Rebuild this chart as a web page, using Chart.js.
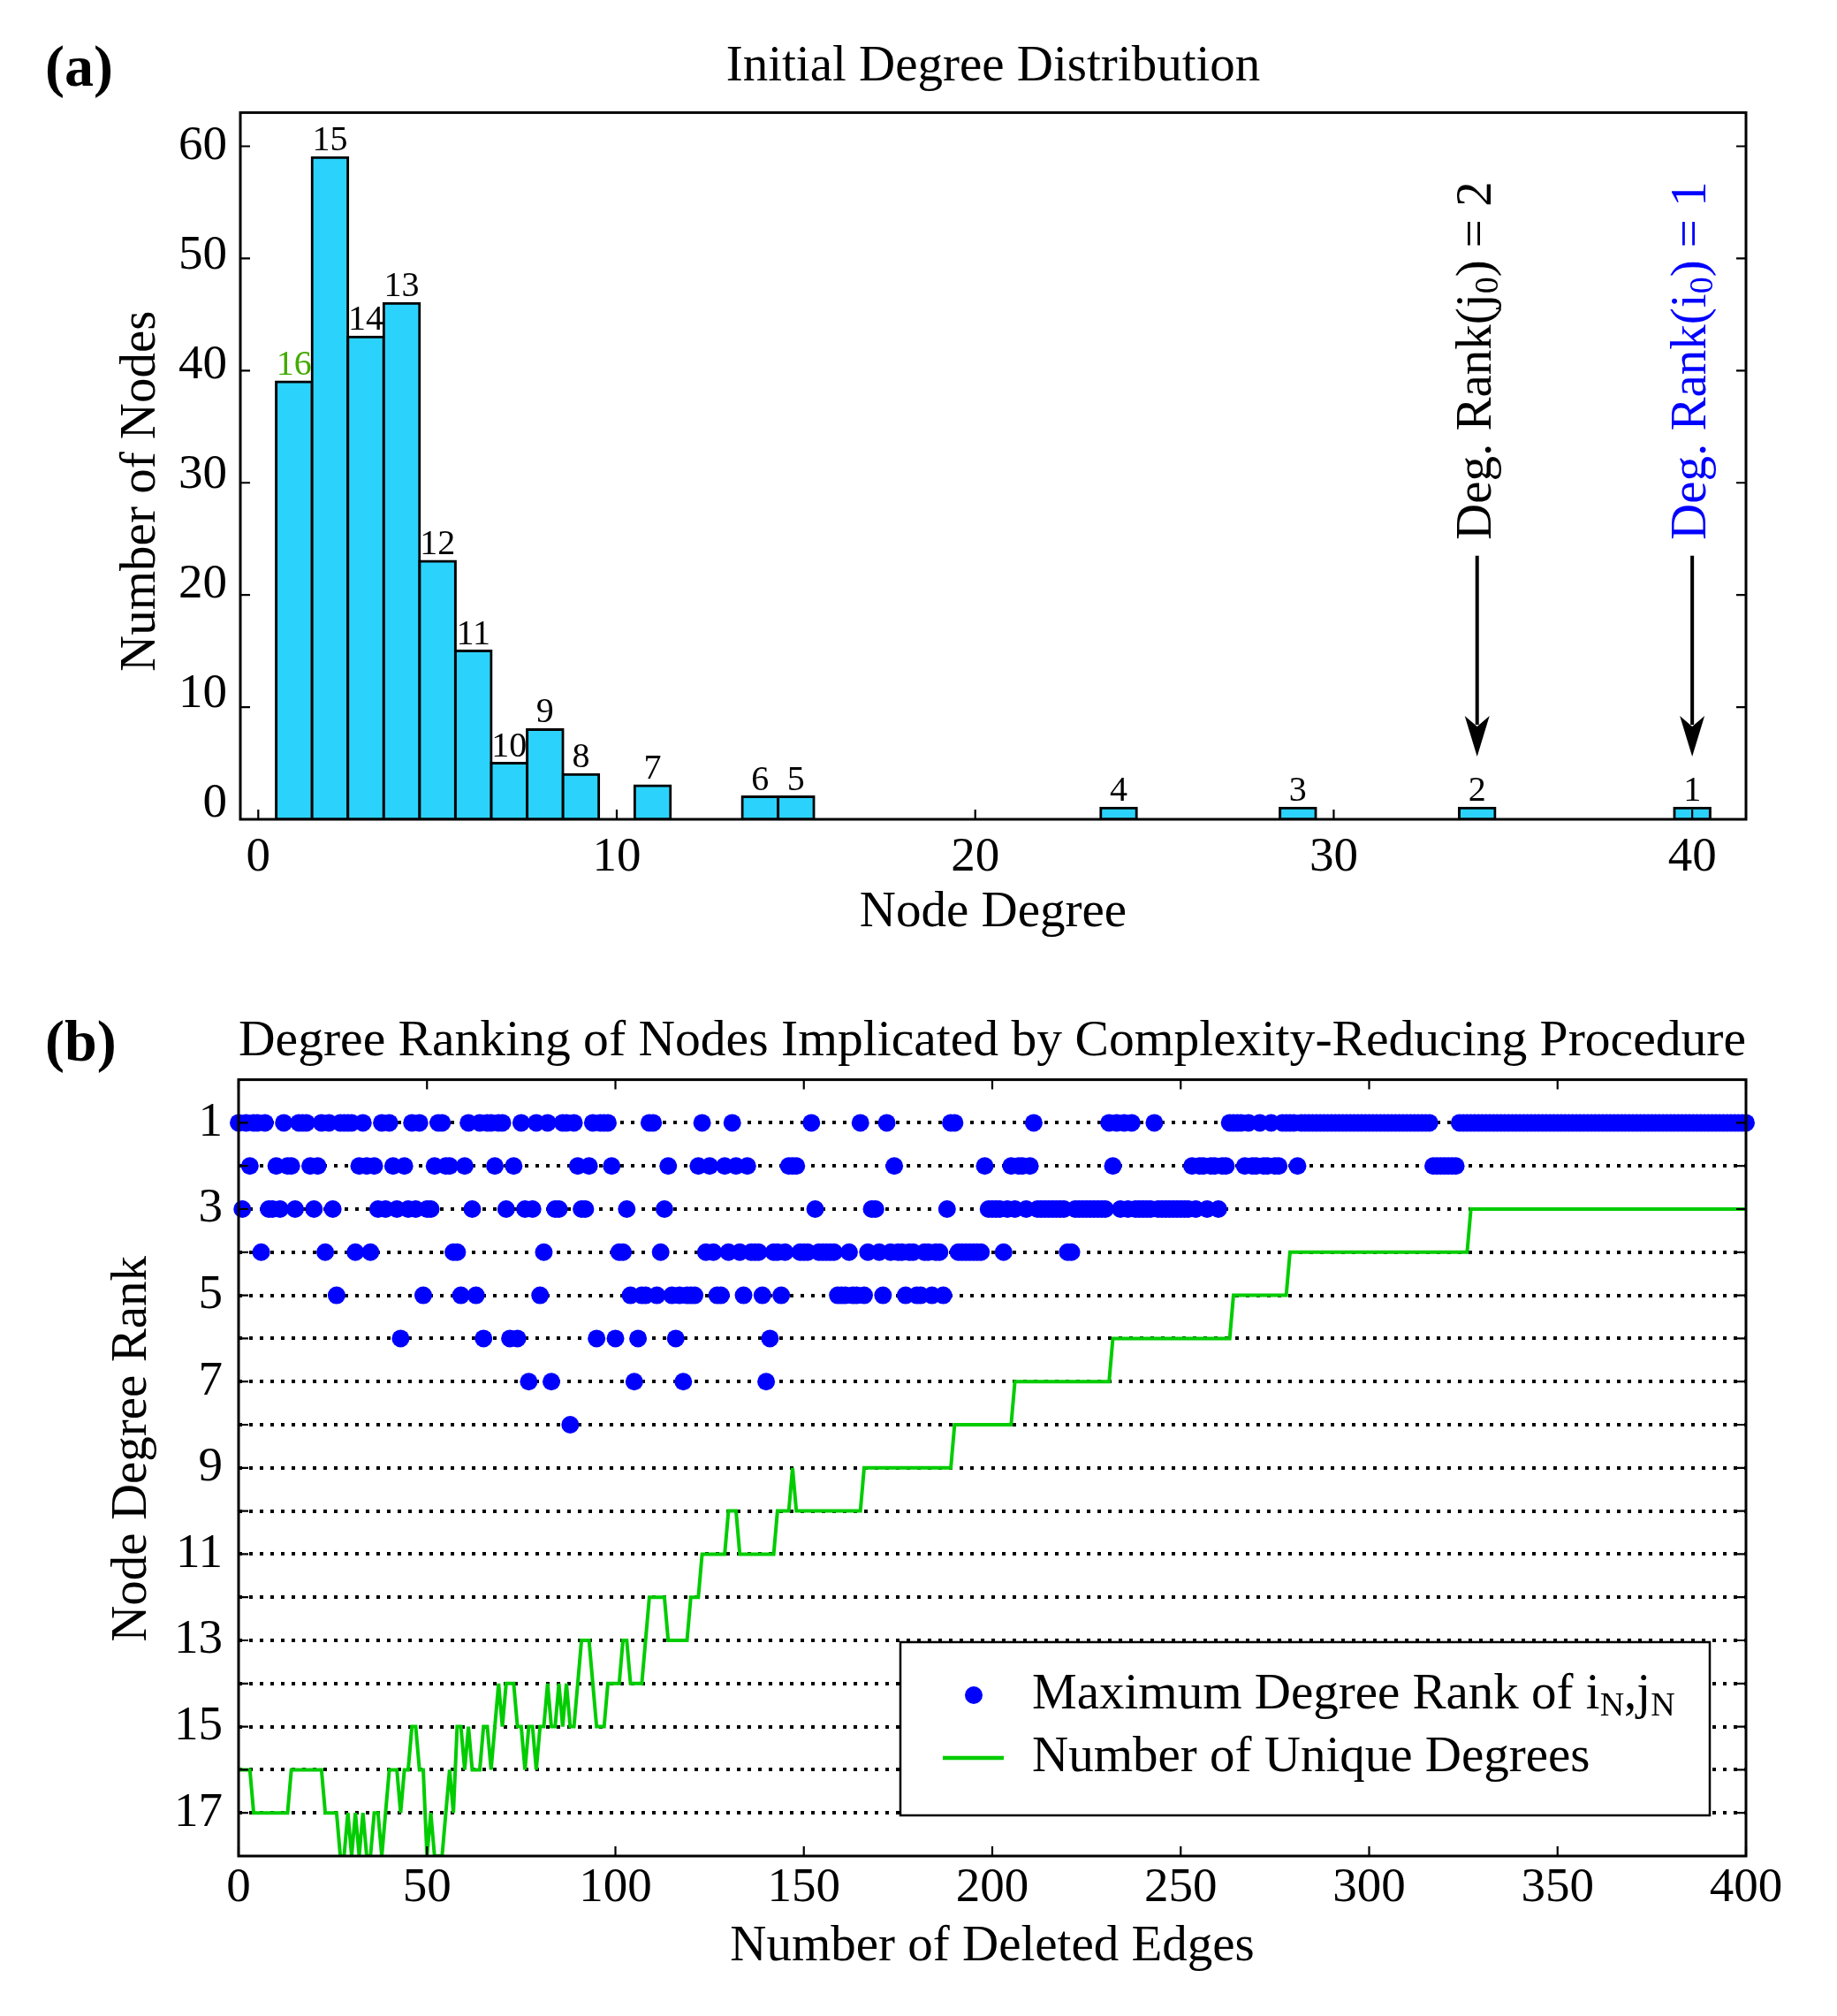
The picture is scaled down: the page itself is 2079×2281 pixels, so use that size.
<!DOCTYPE html>
<html>
<head>
<meta charset="utf-8">
<title>Degree distribution and degree ranking</title>
<script src="https://cdn.jsdelivr.net/npm/chart.js@4.4.1/dist/chart.umd.min.js"></script>
<style>
  html, body { margin: 0; padding: 0; background: #fff; overflow: hidden; }
  #wrapA { position: absolute; left: 0; top: 0; width: 2079px; height: 1100px; }
  #wrapB { position: absolute; left: 0; top: 1100px; width: 2079px; height: 1181px; }
</style>
</head>
<body>
<div id="wrapA"><canvas id="histChart"></canvas></div>
<div id="wrapB"><canvas id="rankChart"></canvas></div>
<script>
// ===============================
// DATA - panel (a)
// ===============================
const nodeDegrees = [1, 2, 3, 4, 5, 6, 7, 8, 9, 11, 14, 15, 24, 29, 34, 40];
const nodeCounts  = [39, 59, 43, 46, 23, 15, 5, 8, 4, 3, 2, 2, 1, 1, 1, 1];
const degreeRanks = ["16", "15", "14", "13", "12", "11", "10", "9", "8", "7", "6", "5", "4", "3", "2", "1"];
const degreeTicks = [0, 10, 20, 30, 40];
const countTicks  = [0, 10, 20, 30, 40, 50, 60];

// arrows: degree of the two end nodes, arrow start / tip and text start (y in node counts)
const arrowDegrees = [34, 40];
const arrowFrom    = [23.5, 23.5];
const arrowTo      = [5.6, 5.6];
const arrowTextAt  = [24.9, 24.9];
const arrowTexts   = [
    [["Deg. Rank(j", false], ["0", true], [") = 2", false]],
    [["Deg. Rank(i", false], ["0", true], [") = 1", false]]
];

// ===============================
// DATA - panel (b)
// ===============================
// maximum degree rank of (iN, jN) for deleted edge N = 0..400
const maxRankOfPair = [
    1,3,1,2,1,1,4,1,3,3,2,3,1,2,2,3,1,1,1,2,
    3,2,1,4,1,3,5,1,1,1,1,4,2,1,2,4,2,3,1,3,
    1,2,3,6,2,3,1,3,1,5,3,3,2,1,1,2,2,4,4,5,
    2,1,3,5,1,6,1,1,2,1,1,3,6,2,6,1,3,7,3,1,
    5,4,1,7,3,3,1,1,8,1,2,3,3,2,1,6,1,1,1,2,
    6,4,4,3,5,7,6,5,5,1,1,5,4,3,2,5,6,5,7,5,
    5,5,2,1,4,2,4,5,5,2,4,1,2,4,5,2,4,4,4,5,
    7,6,4,4,5,4,2,2,2,4,4,4,1,3,4,4,4,4,4,5,
    5,5,4,5,5,1,5,4,3,3,4,5,1,4,2,4,4,5,4,4,
    5,5,4,4,5,4,4,5,3,1,1,4,4,4,4,4,4,4,2,3,
    3,3,3,4,3,2,3,2,2,3,2,1,3,3,3,3,3,3,3,3,
    4,4,3,3,3,3,3,3,3,3,3,1,2,1,3,1,3,1,3,3,
    3,3,3,1,3,3,3,3,3,3,3,3,3,2,3,2,2,3,2,2,
    3,2,2,1,1,1,1,2,1,2,2,1,2,2,1,2,2,1,1,1,
    1,2,1,1,1,1,1,1,1,1,1,1,1,1,1,1,1,1,1,1,
    1,1,1,1,1,1,1,1,1,1,1,1,1,1,1,1,1,2,2,2,
    2,2,2,2,1,1,1,1,1,1,1,1,1,1,1,1,1,1,1,1,
    1,1,1,1,1,1,1,1,1,1,1,1,1,1,1,1,1,1,1,1,
    1,1,1,1,1,1,1,1,1,1,1,1,1,1,1,1,1,1,1,1,
    1,1,1,1,1,1,1,1,1,1,1,1,1,1,1,1,1,1,1,1,
    1
];

// number of unique degrees after N deleted edges, N = 0..400
const uniqueDegrees = [
    16,16,16,16,17,17,17,17,17,17,17,17,17,17,16,16,16,16,16,16,
    16,16,16,17,17,17,17,18,18,17,18,17,18,17,18,18,17,17,18,17,
    16,16,16,17,16,16,15,15,16,16,18,17,18,18,18,17,16,17,15,15,
    16,15,16,16,16,15,15,16,15,14,15,14,14,14,15,15,16,15,15,16,
    15,15,14,15,15,14,15,14,15,15,14,13,13,13,14,15,15,15,14,14,
    14,14,13,13,14,14,14,14,13,12,12,12,12,12,13,13,13,13,13,13,
    12,12,12,11,11,11,11,11,11,11,10,10,10,11,11,11,11,11,11,11,
    11,11,11,10,10,10,10,9,10,10,10,10,10,10,10,10,10,10,10,10,
    10,10,10,10,10,10,9,9,9,9,9,9,9,9,9,9,9,9,9,9,
    9,9,9,9,9,9,9,9,9,9,8,8,8,8,8,8,8,8,8,8,
    8,8,8,8,8,8,7,7,7,7,7,7,7,7,7,7,7,7,7,7,
    7,7,7,7,7,7,7,7,7,7,7,7,6,6,6,6,6,6,6,6,
    6,6,6,6,6,6,6,6,6,6,6,6,6,6,6,6,6,6,6,6,
    6,6,6,6,5,5,5,5,5,5,5,5,5,5,5,5,5,5,5,4,
    4,4,4,4,4,4,4,4,4,4,4,4,4,4,4,4,4,4,4,4,
    4,4,4,4,4,4,4,4,4,4,4,4,4,4,4,4,4,4,4,4,
    4,4,4,4,4,4,4,3,3,3,3,3,3,3,3,3,3,3,3,3,
    3,3,3,3,3,3,3,3,3,3,3,3,3,3,3,3,3,3,3,3,
    3,3,3,3,3,3,3,3,3,3,3,3,3,3,3,3,3,3,3,3,
    3,3,3,3,3,3,3,3,3,3,3,3,3,3,3,3,3,3,3,3,
    3
];

const edgeTicks      = [0, 50, 100, 150, 200, 250, 300, 350, 400];
const rankTicks      = [1, 2, 3, 4, 5, 6, 7, 8, 9, 10, 11, 12, 13, 14, 15, 16, 17];
const rankTickLabels = ["1", "", "3", "", "5", "", "7", "", "9", "", "11", "", "13", "", "15", "", "17"];

// ===============================
// STYLE
// ===============================
const FONT = "'Liberation Serif', 'Times New Roman', Times, serif";
const BAR_FILL = "#2bd3fc";
const BLUE = "#0000ff";
const GREEN = "#00cc00";
const LABEL_GREEN = "#44aa00";
const HIGHLIGHT_RANK = "16";
const TICK_LEN = 11;

Chart.defaults.font.family = FONT;
Chart.defaults.color = "#000";

function drawFrame(chart) {
    const {ctx, chartArea: a} = chart;
    ctx.save();
    ctx.strokeStyle = "#000";
    ctx.lineWidth = 3;
    ctx.strokeRect(a.left, a.top, a.right - a.left, a.bottom - a.top);
    ctx.restore();
}

// inward tick marks: x ticks on the bottom (and top), y ticks on both sides
function drawInnerTicks(chart, xValues, yValues, xTop) {
    const {ctx, chartArea: a, scales} = chart;
    ctx.save();
    ctx.strokeStyle = "#000";
    ctx.lineWidth = 2.2;
    ctx.beginPath();
    xValues.forEach(v => {
        const px = scales.x.getPixelForValue(v);
        ctx.moveTo(px, a.bottom);
        ctx.lineTo(px, a.bottom - TICK_LEN);
        if (xTop) {
            ctx.moveTo(px, a.top);
            ctx.lineTo(px, a.top + TICK_LEN);
        }
    });
    yValues.forEach(v => {
        const py = scales.y.getPixelForValue(v);
        ctx.moveTo(a.left, py);
        ctx.lineTo(a.left + TICK_LEN, py);
        ctx.moveTo(a.right, py);
        ctx.lineTo(a.right - TICK_LEN, py);
    });
    ctx.stroke();
    ctx.restore();
}

// text made of [string, isSubscript] pieces, drawn from (x, y) along the current direction
function drawPieces(ctx, pieces, x, y, size, subSize, subShift) {
    let cx = x;
    pieces.forEach(([txt, sub]) => {
        ctx.font = (sub ? subSize : size) + "px " + FONT;
        ctx.fillText(txt, cx, sub ? y + subShift : y);
        cx += ctx.measureText(txt).width;
    });
}

function drawPanelLetter(chart, letter, baseline) {
    const ctx = chart.ctx;
    ctx.save();
    ctx.font = "bold 66px " + FONT;
    ctx.fillStyle = "#000";
    ctx.textAlign = "left";
    ctx.textBaseline = "alphabetic";
    ctx.fillText(letter, 51, baseline);
    ctx.restore();
}

const histDecor = {
    id: "histDecor",
    afterDatasetsDraw(chart) {
        const {ctx, scales} = chart;
        drawFrame(chart);
        drawInnerTicks(chart, degreeTicks, countTicks, false);

        // rank labels above bars
        ctx.save();
        ctx.font = "40px " + FONT;
        ctx.textAlign = "center";
        ctx.textBaseline = "alphabetic";
        nodeDegrees.forEach((d, i) => {
            ctx.fillStyle = degreeRanks[i] === HIGHLIGHT_RANK ? LABEL_GREEN : "#000";
            ctx.fillText(degreeRanks[i], scales.x.getPixelForValue(d), scales.y.getPixelForValue(nodeCounts[i]) - 8);
        });
        ctx.restore();

        // arrows with rotated text
        arrowDegrees.forEach((d, i) => {
            const x = scales.x.getPixelForValue(d);
            const y0 = scales.y.getPixelForValue(arrowFrom[i]);
            const y1 = scales.y.getPixelForValue(arrowTo[i]);
            ctx.save();
            ctx.strokeStyle = "#000";
            ctx.fillStyle = "#000";
            ctx.lineWidth = 4;
            ctx.beginPath();
            ctx.moveTo(x, y0);
            ctx.lineTo(x, y1 - 36);
            ctx.stroke();
            ctx.beginPath();
            ctx.moveTo(x, y1);
            ctx.lineTo(x - 14, y1 - 46);
            ctx.lineTo(x, y1 - 34);
            ctx.lineTo(x + 14, y1 - 46);
            ctx.closePath();
            ctx.fill();

            ctx.translate(x, scales.y.getPixelForValue(arrowTextAt[i]));
            ctx.rotate(-Math.PI / 2);
            ctx.fillStyle = i === 0 ? "#000" : BLUE;
            ctx.textAlign = "left";
            ctx.textBaseline = "middle";
            drawPieces(ctx, arrowTexts[i], 0, 0, 57, 38, 13);
            ctx.restore();
        });
    },
    afterDraw(chart) {
        drawPanelLetter(chart, "(a)", 97);
    }
};

const rankDecor = {
    id: "rankDecor",
    afterDatasetsDraw(chart) {
        const {ctx, chartArea: a} = chart;
        drawFrame(chart);
        drawInnerTicks(chart, edgeTicks, rankTicks, true);

        // legend box
        const bw = 916, bh = 196;
        const bx = a.right - 41 - bw, by = a.bottom - 46 - bh;
        ctx.save();
        ctx.fillStyle = "#fff";
        ctx.fillRect(bx, by, bw, bh);
        ctx.strokeStyle = "#000";
        ctx.lineWidth = 2.5;
        ctx.strokeRect(bx, by, bw, bh);

        ctx.fillStyle = BLUE;
        ctx.beginPath();
        ctx.arc(bx + 83, by + 60, 10, 0, Math.PI * 2);
        ctx.fill();

        ctx.strokeStyle = GREEN;
        ctx.lineWidth = 4.5;
        ctx.beginPath();
        ctx.moveTo(bx + 48, by + 131);
        ctx.lineTo(bx + 117, by + 131);
        ctx.stroke();

        ctx.fillStyle = "#000";
        ctx.textAlign = "left";
        ctx.textBaseline = "middle";
        drawPieces(ctx, [["Maximum Degree Rank of i", false], ["N", true], [",j", false], ["N", true]],
            bx + 149, by + 60, 57, 38, 13);
        drawPieces(ctx, [["Number of Unique Degrees", false]], bx + 149, by + 131, 57, 38, 13);
        ctx.restore();
    },
    afterDraw(chart) {
        drawPanelLetter(chart, "(b)", 100);
    }
};

// ===============================
// 1. INITIAL DEGREE DISTRIBUTION
// ===============================
const histChart = new Chart(document.getElementById("histChart"), {
    type: "bar",
    data: {
        datasets: [{
            data: nodeDegrees.map((d, i) => ({x: d, y: nodeCounts[i]})),
            backgroundColor: BAR_FILL,
            borderColor: "#000",
            borderWidth: 3,
            borderSkipped: false,
            inflateAmount: 1.5,
            barPercentage: 1,
            categoryPercentage: 1
        }]
    },
    options: {
        responsive: true,
        maintainAspectRatio: false,
        animation: false,
        devicePixelRatio: 1,
        layout: {padding: {left: 0, right: 103, top: 0, bottom: 0}},
        plugins: {
            legend: {display: false},
            tooltip: {enabled: false},
            title: {
                display: true,
                text: "Initial Degree Distribution",
                fullSize: false,
                color: "#000",
                font: {size: 57, weight: "normal"},
                padding: {top: 42, bottom: 17}
            }
        },
        scales: {
            x: {
                type: "linear",
                min: -0.5,
                max: 41.5,
                offset: false,
                afterBuildTicks: s => { s.ticks = degreeTicks.map(v => ({value: v})); },
                afterFit: s => { s.height = 173; },
                grid: {display: false},
                border: {display: false},
                ticks: {font: {size: 55}, color: "#000", padding: 3, maxRotation: 0, autoSkip: false},
                title: {display: true, text: "Node Degree", color: "#000", font: {size: 57}, padding: {top: 0, bottom: 33}}
            },
            // data axis (bars, tick marks)
            y: {
                type: "linear",
                display: false,
                min: 0,
                max: 63
            },
            // label axis: the printed count labels sit on a slightly tighter spacing than the tick marks
            yLabels: {
                type: "linear",
                position: "left",
                min: -1.37,
                max: 63.06,
                afterBuildTicks: s => { s.ticks = countTicks.map(v => ({value: v})); },
                afterFit: s => { s.width = 272; },
                grid: {display: false},
                border: {display: false},
                ticks: {font: {size: 55}, color: "#000", padding: 7, autoSkip: false},
                title: {display: true, text: "Number of Nodes    ", color: "#000", font: {size: 57}, padding: {top: 126, bottom: 0}}
            }
        }
    },
    plugins: [histDecor]
});

// ===============================
// 2. DEGREE RANKING OF IMPLICATED NODES
// ===============================
const rankChart = new Chart(document.getElementById("rankChart"), {
    type: "scatter",
    data: {
        datasets: [
            {
                type: "line",
                label: "Number of Unique Degrees",
                data: uniqueDegrees.map((v, i) => ({x: i, y: v})),
                borderColor: GREEN,
                borderWidth: 4,
                pointRadius: 0,
                fill: false,
                tension: 0,
                clip: 0,
                order: 1
            },
            {
                label: "Maximum Degree Rank of iN,jN",
                data: maxRankOfPair.map((r, i) => ({x: i, y: r})),
                backgroundColor: BLUE,
                borderWidth: 0,
                pointRadius: 10,
                clip: false,
                order: 2
            }
        ]
    },
    options: {
        responsive: true,
        maintainAspectRatio: false,
        animation: false,
        devicePixelRatio: 1,
        layout: {padding: {left: 0, right: 103, top: 0, bottom: 0}},
        plugins: {
            legend: {display: false},
            tooltip: {enabled: false},
            title: {
                display: true,
                text: "Degree Ranking of Nodes Implicated by Complexity-Reducing Procedure",
                fullSize: false,
                color: "#000",
                font: {size: 58, weight: "normal"},
                padding: {top: 44, bottom: 8}
            }
        },
        scales: {
            x: {
                type: "linear",
                min: 0,
                max: 400,
                afterBuildTicks: s => { s.ticks = edgeTicks.map(v => ({value: v})); },
                afterFit: s => { s.height = 181; },
                grid: {display: false},
                border: {display: false},
                ticks: {font: {size: 55}, color: "#000", padding: -4, maxRotation: 0, autoSkip: false},
                title: {display: true, text: "Number of Deleted Edges", color: "#000", font: {size: 57}, padding: {top: 0, bottom: 44}}
            },
            y: {
                type: "linear",
                reverse: true,
                min: 0,
                max: 18,
                afterBuildTicks: s => { s.ticks = rankTicks.map(v => ({value: v})); },
                afterFit: s => { s.width = 270; },
                grid: {display: true, color: "#000", lineWidth: 4, drawTicks: false},
                border: {display: false, dash: [4, 8]},
                ticks: {
                    font: {size: 55},
                    color: "#000",
                    padding: 18,
                    autoSkip: false,
                    callback: (value, index) => rankTickLabels[index]
                },
                title: {display: true, text: "   Node Degree Rank", color: "#000", font: {size: 57}, padding: {top: 116, bottom: 0}}
            }
        }
    },
    plugins: [rankDecor]
});
</script>
</body>
</html>
